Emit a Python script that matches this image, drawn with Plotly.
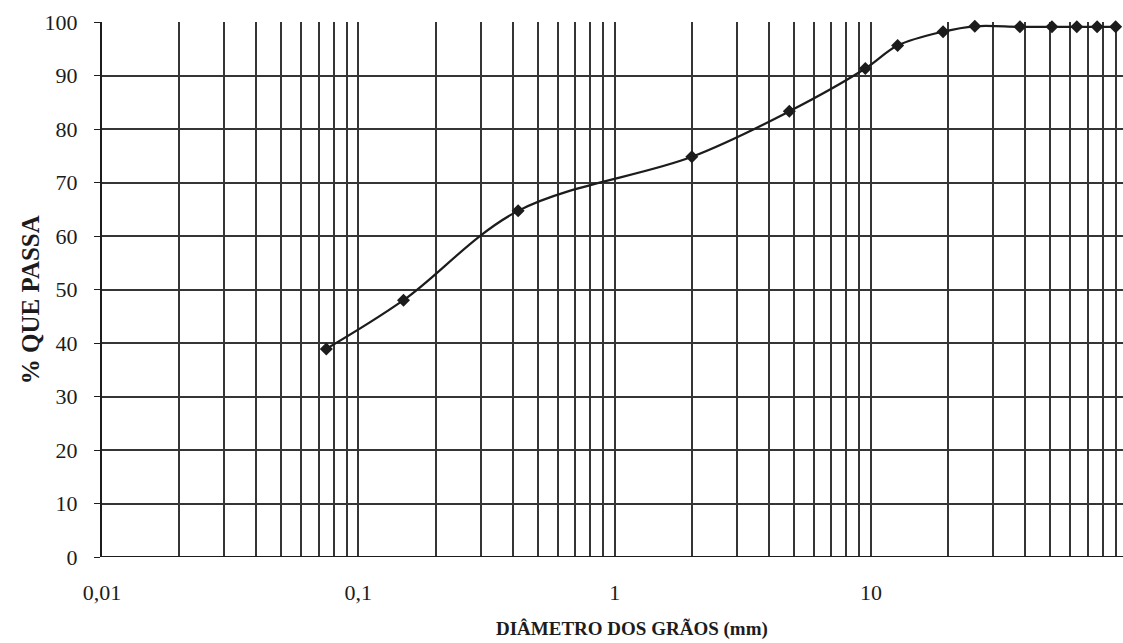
import plotly.graph_objects as go

# Data
diametro_mm = [0.075, 0.15, 0.42, 2.0, 4.8, 9.5, 12.7, 19.1, 25.4, 38.1, 50.8, 63.5, 76.2, 90.0]
pct_passa = [38.9, 48.0, 64.7, 74.8, 83.3, 91.3, 95.6, 98.2, 99.2, 99.1, 99.1, 99.1, 99.1, 99.1]

decade_ticks = [0.01, 0.1, 1, 10]
decade_labels = ["0,01", "0,1", "1", "10"]
y_ticks = [0, 10, 20, 30, 40, 50, 60, 70, 80, 90, 100]

# grid positions at every 1..9 multiple of each decade
grid_vals = []
for d in decade_ticks:
    for m in range(1, 10):
        grid_vals.append(round(d * m, 6))
grid_text = []
for v in grid_vals:
    if v in decade_ticks:
        grid_text.append(decade_labels[decade_ticks.index(v)])
    else:
        grid_text.append("")

FONT = "Liberation Serif"
INK = "#1c1c1c"

fig = go.Figure()
fig.add_trace(go.Scatter(
    x=diametro_mm, y=pct_passa,
    mode="lines+markers",
    line=dict(color=INK, width=2.2, shape="spline", smoothing=1),
    marker=dict(symbol="diamond", size=10, color=INK),
    cliponaxis=False,
    showlegend=False,
))

fig.update_layout(
    width=1123, height=643,
    margin=dict(l=102, r=0, t=22, b=86),
    paper_bgcolor="white", plot_bgcolor="white",
    font=dict(family=FONT, color=INK, size=22),
    xaxis=dict(
        type="log",
        range=[-2, 1.983],
        tickvals=grid_vals,
        ticktext=grid_text,
        showgrid=True, gridcolor="#353535", gridwidth=1.6,
        ticks="", ticklen=0,
        ticklabelstandoff=20,
        zeroline=False,
        showline=False,
        tickfont=dict(size=22, family=FONT, color=INK),
    ),
    yaxis=dict(
        range=[0, 100],
        tickvals=y_ticks,
        showgrid=True, gridcolor="#353535", gridwidth=1.8,
        ticks="outside", ticklen=6, tickcolor=INK, tickwidth=1.4,
        ticklabelstandoff=12,
        showline=True, linecolor=INK, linewidth=2,
        zeroline=False,
        tickfont=dict(size=22, family=FONT, color=INK),
    ),
    annotations=[
        dict(text="<b>DIÂMETRO DOS GRÃOS (mm)</b>", xref="paper", yref="paper",
             x=0.519, y=0, yanchor="middle", xanchor="center", yshift=-72,
             showarrow=False, font=dict(size=19, family=FONT, color=INK)),
        dict(text="<b>% QUE PASSA</b>", xref="paper", yref="paper",
             x=0, y=0.48, xanchor="center", yanchor="middle", xshift=-72,
             textangle=-90, showarrow=False,
             font=dict(size=25, family=FONT, color=INK)),
    ],
)

# bottom axis line at y=0
fig.add_shape(type="line", xref="paper", yref="y", x0=0, x1=1, y0=0, y1=0,
              line=dict(color=INK, width=2.2))

fig.write_html("out.html", config={"displayModeBar": False},
               post_script="document.body.style.margin='0';")
